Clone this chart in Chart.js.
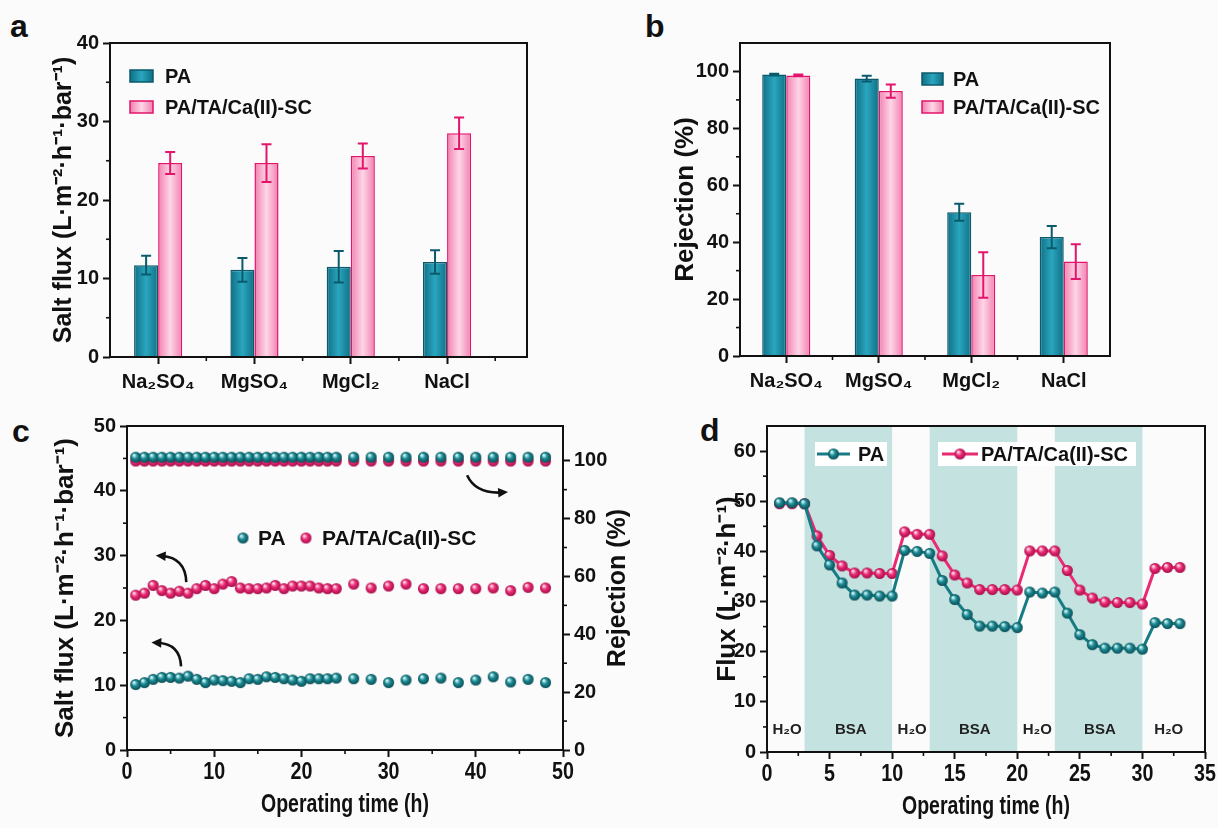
<!DOCTYPE html>
<html>
<head>
<meta charset="utf-8">
<script src="https://cdn.jsdelivr.net/npm/chart.js@4.4.0/dist/chart.umd.min.js"></script>
<style>
  body { margin: 0; width: 1218px; height: 828px; overflow: hidden; background: #fbfbfb; font-family: "Liberation Sans", Arial, sans-serif; }
  canvas { position: absolute; }
  .tag { position: absolute; font-weight: bold; font-size: 32px; line-height: 32px; color: #111; }
</style>
</head>
<body>
<div class="tag" style="left:10px;top:10px">a</div>
<div class="tag" style="left:645px;top:10px">b</div>
<div class="tag" style="left:12px;top:415px">c</div>
<div class="tag" style="left:700px;top:414px">d</div>
<canvas id="chartA" style="left:0;top:0" width="600" height="410"></canvas>
<canvas id="chartB" style="left:640px;top:0" width="578" height="410"></canvas>
<canvas id="chartC" style="left:0;top:410px" width="640" height="418"></canvas>
<canvas id="chartD" style="left:690px;top:410px" width="528" height="418"></canvas>
<script>
// ---- data (a, b) ----
const salts = ['Na₂SO₄', 'MgSO₄', 'MgCl₂', 'NaCl'];
const saltPos = [0, 1, 2, 3];
const fluxPA = [11.7, 11.1, 11.5, 12.1];
const fluxPAErr = [1.2, 1.5, 2.0, 1.5];
const fluxSC = [24.7, 24.7, 25.6, 28.5];
const fluxSCErr = [1.4, 2.4, 1.6, 2.0];
const rejPA = [98.9, 97.5, 50.5, 41.8];
const rejPAErr = [0.3, 1.0, 3.0, 3.9];
const rejSC = [98.6, 93.1, 28.5, 33.2];
const rejSCErr = [0.3, 2.3, 8.0, 6.1];

// ---- data (c) ----
const timeC = [1, 2, 3, 4, 5, 6, 7, 8, 9, 10, 11, 12, 13, 14, 15, 16, 17, 18, 19, 20, 21, 22, 23, 24,
  26, 28, 30, 32, 34, 36, 38, 40, 42, 44, 46, 48];
const longFluxPA = [10.1, 10.4, 10.9, 11.2, 11.2, 11.1, 11.4, 10.9, 10.4, 10.8, 10.7, 10.6, 10.4, 11.0, 10.9, 11.3, 11.2, 11.0, 10.8, 10.6, 11.0, 11.0, 11.0, 11.1,
  11.0, 10.9, 10.4, 10.8, 11.0, 11.1, 10.4, 10.8, 11.3, 10.5, 10.9, 10.4];
const longFluxSC = [23.9, 24.2, 25.4, 24.6, 24.2, 24.5, 24.2, 24.9, 25.4, 24.9, 25.6, 26.0, 25.0, 24.9, 24.9, 25.0, 25.4, 24.9, 25.3, 25.3, 25.3, 25.0, 24.9, 24.9,
  25.6, 25.0, 25.3, 25.6, 24.9, 24.9, 24.9, 24.9, 25.0, 24.6, 25.1, 25.0];
const longRejPA = [101.2, 101.2, 101.2, 101.2, 101.2, 101.2, 101.2, 101.2, 101.2, 101.2, 101.2, 101.2, 101.2, 101.2, 101.2, 101.2, 101.2, 101.2, 101.2, 101.2, 101.2, 101.2, 101.2, 101.2,
  101.2, 101.2, 101.2, 101.2, 101.2, 101.2, 101.2, 101.2, 101.2, 101.2, 101.2, 101.2];
const longRejSC = [99.9, 99.9, 99.9, 99.9, 99.9, 99.9, 99.9, 99.9, 99.9, 99.9, 99.9, 99.9, 99.9, 99.9, 99.9, 99.9, 99.9, 99.9, 99.9, 99.9, 99.9, 99.9, 99.9, 99.9,
  99.9, 99.9, 99.9, 99.9, 99.9, 99.9, 99.9, 99.9, 99.9, 99.9, 99.9, 99.9];
// curved arrows (time, salt flux)
const arrowsC = [
  { from: [39.0, 42.4], via: [40.0, 39.5], to: [43.7, 39.8] },
  { from: [6.8, 25.9], via: [6.7, 29.7], to: [3.3, 30.0] },
  { from: [6.2, 12.9], via: [6.1, 16.4], to: [2.8, 16.6] }
];

// ---- data (d) ----
const timeD = [1, 2, 3, 4, 5, 6, 7, 8, 9, 10, 11, 12, 13, 14, 15, 16, 17, 18, 19, 20, 21, 22, 23, 24, 25, 26, 27, 28, 29, 30, 31, 32, 33];
const foulPA = [49.7, 49.7, 49.5, 41.1, 37.3, 33.7, 31.3, 31.3, 31.1, 31.1, 40.2, 40.0, 39.6, 34.2, 30.4, 27.4, 25.1, 25.1, 25.0, 24.8,
  31.9, 31.7, 31.9, 27.7, 23.4, 21.4, 20.7, 20.7, 20.7, 20.5, 25.8, 25.6, 25.6];
const foulSC = [49.5, 49.5, 49.5, 43.1, 39.2, 37.1, 35.7, 35.7, 35.6, 35.6, 43.9, 43.4, 43.4, 39.1, 35.3, 33.7, 32.4, 32.4, 32.4, 32.3,
  40.1, 40.1, 40.1, 36.2, 32.3, 30.7, 29.9, 29.8, 29.8, 29.5, 36.6, 36.8, 36.8];
const bsaStart = [3, 13, 23];
const bsaEnd = [10, 20, 30];
const stageNames = ['H₂O', 'BSA', 'H₂O', 'BSA', 'H₂O', 'BSA', 'H₂O'];
const stagePos = [1.6, 6.7, 11.6, 16.6, 21.6, 26.6, 32.1];

// ---- ticks ----
const ticksAY = [0, 10, 20, 30, 40];
const minorAY = [5, 15, 25, 35];
const minorAX = [0.5, 1.5, 2.5, 3.5];
const ticksBY = [0, 20, 40, 60, 80, 100];
const minorBY = [10, 30, 50, 70, 90];
const minorBX = [0.5, 1.5, 2.5];
const ticksCX = [0, 10, 20, 30, 40, 50];
const minorCX = [5, 15, 25, 35, 45];
const ticksCY = [0, 10, 20, 30, 40, 50];
const minorCY = [5, 15, 25, 35, 45];
const ticksCY1 = [0, 20, 40, 60, 80, 100];
const minorCY1 = [10, 30, 50, 70, 90];
const ticksDX = [0, 5, 10, 15, 20, 25, 30, 35];
const minorDX = [2.5, 7.5, 12.5, 17.5, 22.5, 27.5, 32.5];
const ticksDY = [0, 10, 20, 30, 40, 50, 60];
const minorDY = [5, 15, 25, 35, 45, 55];

const FONT = '"Liberation Sans", Arial, sans-serif';
const INK = '#111';
const TEAL_DARK = '#0b5a6b';
const TEAL_EDGE = '#0f6f85';
const TEAL_MID = '#2aa6bf';
const PINK_DARK = '#e3146b';
const PINK_EDGE = '#f27fb0';
const PINK_MID = '#fdd6e6';
const LINE_TEAL = '#167b84';
const LINE_PINK = '#ea2a73';
const BAND = '#c4e3e0';

Chart.defaults.font.family = FONT;
Chart.defaults.color = INK;

function sphere(r, light, mid, dark) {
  const c = document.createElement('canvas');
  const s = Math.ceil(r * 2 + 2);
  c.width = s; c.height = s;
  const g = c.getContext('2d');
  const grad = g.createRadialGradient(s / 2 - r * 0.35, s / 2 - r * 0.4, r * 0.1, s / 2, s / 2, r);
  grad.addColorStop(0, light);
  grad.addColorStop(0.45, mid);
  grad.addColorStop(1, dark);
  g.fillStyle = grad;
  g.beginPath(); g.arc(s / 2, s / 2, r, 0, Math.PI * 2); g.fill();
  return c;
}
const ballPA = sphere(5.5, '#d8fbfb', '#1c8c95', '#094c54');
const ballSC = sphere(5.5, '#ffe3ee', '#ec2d76', '#a50c4a');

function cylinder(ctx, left, right, edge, mid) {
  const g = ctx.createLinearGradient(left, 0, right, 0);
  g.addColorStop(0, edge);
  g.addColorStop(0.5, mid);
  g.addColorStop(1, edge);
  return g;
}

// fill for grouped bars, side -1 = left bar, +1 = right bar
function barFill(side, catPct, edge, mid) {
  return function (c) {
    const xs = c.chart.scales.x;
    if (c.dataIndex === undefined || !xs || !c.chart.chartArea) return mid;
    const p = xs.getPixelForValue(c.dataIndex);
    const w = (xs.getPixelForValue(1) - xs.getPixelForValue(0)) * catPct / 2;
    return side < 0 ? cylinder(c.chart.ctx, p - w, p, edge, mid) : cylinder(c.chart.ctx, p, p + w, edge, mid);
  };
}

function tickGrid() {
  return { drawOnChartArea: false, tickLength: 7, tickWidth: 2, tickColor: INK, offset: false };
}
function tickFont(size) {
  return { family: FONT, size: size || 20, weight: 'bold' };
}
function fixTicks(list) {
  return s => { s.ticks = list.map(v => ({ value: v })); };
}

// condensed text, as in the bottom axes of c and d
function narrowText(ctx, text, x, y, size, sx) {
  ctx.save();
  ctx.translate(x, y);
  ctx.scale(sx, 1);
  ctx.font = 'bold ' + size + 'px ' + FONT;
  ctx.fillStyle = INK;
  ctx.textAlign = 'center';
  ctx.textBaseline = 'middle';
  ctx.fillText(text, 0, 0);
  ctx.restore();
}

// box around the plot + minor ticks
const frame = {
  id: 'frame',
  afterDatasetsDraw(chart, args, opts) {
    const { ctx, chartArea: a } = chart;
    ctx.save();
    ctx.strokeStyle = INK;
    ctx.lineWidth = 2;
    ctx.strokeRect(a.left, a.top, a.right - a.left, a.bottom - a.top);
    ctx.lineWidth = 1.6;
    const minor = opts.minor || {};
    Object.keys(minor).forEach(id => {
      const s = chart.scales[id];
      minor[id].forEach(v => {
        const p = s.getPixelForValue(v);
        ctx.beginPath();
        if (s.isHorizontal()) { ctx.moveTo(p, a.bottom); ctx.lineTo(p, a.bottom + 4); }
        else if (s.position === 'right') { ctx.moveTo(a.right, p); ctx.lineTo(a.right + 4, p); }
        else { ctx.moveTo(a.left, p); ctx.lineTo(a.left - 4, p); }
        ctx.stroke();
      });
    });
    ctx.restore();
  }
};

// bottom axis labels + title for the time axes
const timeAxis = {
  id: 'timeAxis',
  afterDraw(chart, args, opts) {
    const { ctx, chartArea: a, scales } = chart;
    opts.ticks.forEach(v => narrowText(ctx, String(v), scales.x.getPixelForValue(v), a.bottom + 22, 24, 0.82));
    narrowText(ctx, 'Operating time (h)', (a.left + a.right) / 2, a.bottom + 55, 25, 0.78);
  }
};

const errorBars = {
  id: 'errorBars',
  afterDatasetsDraw(chart) {
    const ctx = chart.ctx;
    chart.data.datasets.forEach((ds, i) => {
      if (!ds.errors) return;
      const meta = chart.getDatasetMeta(i);
      const ys = chart.scales[meta.yAxisID];
      ctx.save();
      ctx.strokeStyle = ds.borderColor;
      ctx.lineWidth = 2;
      meta.data.forEach((bar, j) => {
        const d = ds.data[j];
        const v = typeof d === 'object' ? d.y : d;
        const top = ys.getPixelForValue(v + ds.errors[j]);
        const bot = ys.getPixelForValue(v - ds.errors[j]);
        ctx.beginPath();
        ctx.moveTo(bar.x, top); ctx.lineTo(bar.x, bot);
        ctx.moveTo(bar.x - 5, top); ctx.lineTo(bar.x + 5, top);
        ctx.moveTo(bar.x - 5, bot); ctx.lineTo(bar.x + 5, bot);
        ctx.stroke();
      });
      ctx.restore();
    });
  }
};

const boxLegend = {
  id: 'boxLegend',
  afterDraw(chart, args, opts) {
    const { ctx, chartArea: a } = chart;
    ctx.save();
    chart.data.datasets.forEach((ds, i) => {
      const x = a.left + opts.dx;
      const y = a.top + opts.dy[i];
      const w = opts.w;
      ctx.fillStyle = cylinder(ctx, x, x + w, ds.legendEdge, ds.legendMid);
      ctx.fillRect(x, y - 6, w, 12);
      ctx.strokeStyle = ds.borderColor;
      ctx.lineWidth = 1.5;
      ctx.strokeRect(x, y - 6, w, 12);
      ctx.fillStyle = INK;
      ctx.font = 'bold 20px ' + FONT;
      ctx.textBaseline = 'middle';
      ctx.fillText(ds.label, x + opts.textDx, y + 1);
    });
    ctx.restore();
  }
};

// ---------- a ----------
new Chart(document.getElementById('chartA'), {
  type: 'bar',
  data: {
    datasets: [
      {
        label: 'PA', data: saltPos.map((x, i) => ({ x, y: fluxPA[i] })), errors: fluxPAErr,
        backgroundColor: barFill(-1, 0.5, TEAL_EDGE, TEAL_MID), borderColor: TEAL_DARK, borderWidth: 1.5,
        legendEdge: TEAL_EDGE, legendMid: TEAL_MID, categoryPercentage: 0.5, barPercentage: 1
      },
      {
        label: 'PA/TA/Ca(II)-SC', data: saltPos.map((x, i) => ({ x, y: fluxSC[i] })), errors: fluxSCErr,
        backgroundColor: barFill(1, 0.5, PINK_EDGE, PINK_MID), borderColor: PINK_DARK, borderWidth: 1.5,
        legendEdge: PINK_EDGE, legendMid: PINK_MID, categoryPercentage: 0.5, barPercentage: 1
      }
    ]
  },
  options: {
    responsive: false,
    animation: false,
    layout: { padding: { left: 0, right: 73, top: 43, bottom: 0 } },
    plugins: {
      legend: { display: false },
      tooltip: { enabled: false },
      frame: { minor: { x: minorAX, y: minorAY } },
      boxLegend: { dx: 20, dy: [33, 64], w: 23, textDx: 35 }
    },
    scales: {
      x: {
        type: 'linear', min: -0.5, max: 3.83, offset: false,
        afterBuildTicks: fixTicks(saltPos),
        afterFit: s => { s.height = 53; },
        ticks: { callback: v => salts[v], font: tickFont(20), color: INK, padding: 6, maxRotation: 0, autoSkip: false },
        grid: tickGrid(), border: { display: false }
      },
      y: {
        min: 0, max: 40,
        afterBuildTicks: fixTicks(ticksAY),
        afterFit: s => { s.width = 110; },
        ticks: { font: tickFont(20), color: INK, padding: 4 },
        grid: tickGrid(), border: { display: false },
        title: { display: true, text: 'Salt flux (L·m⁻²·h⁻¹·bar⁻¹)', font: tickFont(25), color: INK, padding: { top: 49 } }
      }
    }
  },
  plugins: [frame, errorBars, boxLegend]
}).update();

// ---------- b ----------
new Chart(document.getElementById('chartB'), {
  type: 'bar',
  data: {
    labels: salts,
    datasets: [
      {
        label: 'PA', data: rejPA, errors: rejPAErr,
        backgroundColor: barFill(-1, 0.52, TEAL_EDGE, TEAL_MID), borderColor: TEAL_DARK, borderWidth: 1.5,
        legendEdge: TEAL_EDGE, legendMid: TEAL_MID, categoryPercentage: 0.52, barPercentage: 1
      },
      {
        label: 'PA/TA/Ca(II)-SC', data: rejSC, errors: rejSCErr,
        backgroundColor: barFill(1, 0.52, PINK_EDGE, PINK_MID), borderColor: PINK_DARK, borderWidth: 1.5,
        legendEdge: PINK_EDGE, legendMid: PINK_MID, categoryPercentage: 0.52, barPercentage: 1
      }
    ]
  },
  options: {
    responsive: false,
    animation: false,
    layout: { padding: { left: 0, right: 108, top: 43, bottom: 0 } },
    plugins: {
      legend: { display: false },
      tooltip: { enabled: false },
      frame: { minor: { x: minorBX, y: minorBY } },
      boxLegend: { dx: 182, dy: [36, 64], w: 21, textDx: 31 }
    },
    scales: {
      x: {
        afterFit: s => { s.height = 54; },
        ticks: { font: tickFont(20), color: INK, padding: 6, maxRotation: 0, autoSkip: false },
        grid: tickGrid(), border: { display: false }
      },
      y: {
        min: 0, max: 110,
        afterBuildTicks: fixTicks(ticksBY),
        afterFit: s => { s.width = 100; },
        ticks: { font: tickFont(20), color: INK, padding: 4 },
        grid: tickGrid(), border: { display: false },
        title: { display: true, text: 'Rejection (%)', font: tickFont(26), color: INK, padding: { top: 30 } }
      }
    }
  },
  plugins: [frame, errorBars, boxLegend]
}).update();

// ---------- c ----------
const extrasC = {
  id: 'extrasC',
  afterDatasetsDraw(chart) {
    const { ctx, chartArea: a, scales } = chart;
    const px = p => [scales.x.getPixelForValue(p[0]), scales.y.getPixelForValue(p[1])];
    ctx.save();
    ctx.strokeStyle = INK;
    ctx.fillStyle = INK;
    ctx.lineWidth = 2.6;
    arrowsC.forEach(ar => {
      const f = px(ar.from), v = px(ar.via), t = px(ar.to);
      const ang = Math.atan2(t[1] - v[1], t[0] - v[0]);
      const tail = [t[0] - Math.cos(ang) * 6, t[1] - Math.sin(ang) * 6];
      ctx.beginPath();
      ctx.moveTo(f[0], f[1]);
      ctx.quadraticCurveTo(v[0], v[1], tail[0], tail[1]);
      ctx.stroke();
      ctx.beginPath();
      ctx.moveTo(t[0], t[1]);
      ctx.lineTo(t[0] - Math.cos(ang - 0.45) * 11, t[1] - Math.sin(ang - 0.45) * 11);
      ctx.lineTo(t[0] - Math.cos(ang + 0.45) * 11, t[1] - Math.sin(ang + 0.45) * 11);
      ctx.closePath();
      ctx.fill();
    });
    // legend
    const ly = a.top + 112;
    ctx.font = 'bold 21px ' + FONT;
    ctx.textBaseline = 'middle';
    ctx.drawImage(ballPA, a.left + 116 - ballPA.width / 2, ly - ballPA.height / 2);
    ctx.fillText('PA', a.left + 131, ly + 1);
    ctx.drawImage(ballSC, a.left + 179 - ballSC.width / 2, ly - ballSC.height / 2);
    ctx.fillText('PA/TA/Ca(II)-SC', a.left + 195, ly + 1);
    // right axis title, read bottom to top
    ctx.translate(a.right + 55, (a.top + a.bottom) / 2);
    ctx.rotate(-Math.PI / 2);
    ctx.textAlign = 'center';
    ctx.font = 'bold 25px ' + FONT;
    ctx.fillText('Rejection (%)', 0, 0);
    ctx.restore();
  }
};

new Chart(document.getElementById('chartC'), {
  type: 'scatter',
  data: {
    datasets: [
      { label: 'PA', data: timeC.map((t, i) => ({ x: t, y: longFluxPA[i] })), yAxisID: 'y', pointStyle: ballPA },
      { label: 'PA/TA/Ca(II)-SC', data: timeC.map((t, i) => ({ x: t, y: longFluxSC[i] })), yAxisID: 'y', pointStyle: ballSC },
      { label: 'PA', data: timeC.map((t, i) => ({ x: t, y: longRejPA[i] })), yAxisID: 'y1', pointStyle: ballPA },
      { label: 'PA/TA/Ca(II)-SC', data: timeC.map((t, i) => ({ x: t, y: longRejSC[i] })), yAxisID: 'y1', pointStyle: ballSC }
    ]
  },
  options: {
    responsive: false,
    animation: false,
    layout: { padding: { left: 0, right: 0, top: 15, bottom: 0 } },
    plugins: {
      legend: { display: false },
      tooltip: { enabled: false },
      frame: { minor: { x: minorCX, y: minorCY, y1: minorCY1 } },
      timeAxis: { ticks: ticksCX }
    },
    scales: {
      x: {
        type: 'linear', min: 0, max: 50,
        afterBuildTicks: fixTicks(ticksCX),
        afterFit: s => { s.height = 78; },
        ticks: { display: false },
        grid: tickGrid(), border: { display: false }
      },
      y: {
        min: 0, max: 50,
        afterBuildTicks: fixTicks(ticksCY),
        afterFit: s => { s.width = 127; },
        ticks: { font: tickFont(20), color: INK, padding: 4 },
        grid: tickGrid(), border: { display: false },
        title: { display: true, text: 'Salt flux (L·m⁻²·h⁻¹·bar⁻¹)', font: tickFont(26), color: INK, padding: { top: 50 } }
      },
      y1: {
        position: 'right', min: 0, max: 112,
        afterBuildTicks: fixTicks(ticksCY1),
        afterFit: s => { s.width = 77; },
        ticks: { font: tickFont(20), color: INK, padding: 4 },
        grid: tickGrid(), border: { display: false }
      }
    }
  },
  plugins: [frame, extrasC, timeAxis]
});

// ---------- d ----------
const bandsD = {
  id: 'bandsD',
  beforeDatasetsDraw(chart) {
    const { ctx, chartArea: a, scales } = chart;
    ctx.save();
    ctx.fillStyle = BAND;
    bsaStart.forEach((s, i) => {
      const l = scales.x.getPixelForValue(s);
      const r = scales.x.getPixelForValue(bsaEnd[i]);
      ctx.fillRect(l, a.top, r - l, a.bottom - a.top);
    });
    ctx.fillStyle = '#222';
    ctx.font = 'bold 15px ' + FONT;
    ctx.textAlign = 'center';
    ctx.textBaseline = 'middle';
    const ly = scales.y.getPixelForValue(4.4);
    stageNames.forEach((n, i) => ctx.fillText(n, scales.x.getPixelForValue(stagePos[i]), ly));
    ctx.restore();
  },
  afterDatasetsDraw(chart) {
    const { ctx, chartArea: a } = chart;
    const ly = a.top + 28;
    const items = [
      { boxL: 48, boxR: 120, lineL: 50, lineR: 83, text: 91, color: LINE_TEAL, ball: ballPA, label: 'PA' },
      { boxL: 171, boxR: 369, lineL: 175, lineR: 211, text: 214, color: LINE_PINK, ball: ballSC, label: 'PA/TA/Ca(II)-SC' }
    ];
    ctx.save();
    items.forEach(it => {
      ctx.fillStyle = '#ffffff';
      ctx.fillRect(a.left + it.boxL, ly - 12, it.boxR - it.boxL, 24);
      ctx.strokeStyle = it.color;
      ctx.lineWidth = 3;
      ctx.beginPath();
      ctx.moveTo(a.left + it.lineL, ly);
      ctx.lineTo(a.left + it.lineR, ly);
      ctx.stroke();
      const bx = a.left + (it.lineL + it.lineR) / 2;
      ctx.drawImage(it.ball, bx - it.ball.width / 2, ly - it.ball.height / 2);
      ctx.fillStyle = INK;
      ctx.font = 'bold 20px ' + FONT;
      ctx.textBaseline = 'middle';
      ctx.fillText(it.label, a.left + it.text, ly + 1);
    });
    ctx.restore();
  }
};

new Chart(document.getElementById('chartD'), {
  type: 'line',
  data: {
    datasets: [
      { label: 'PA', data: timeD.map((t, i) => ({ x: t, y: foulPA[i] })), borderColor: LINE_TEAL, borderWidth: 3, pointStyle: ballPA, tension: 0 },
      { label: 'PA/TA/Ca(II)-SC', data: timeD.map((t, i) => ({ x: t, y: foulSC[i] })), borderColor: LINE_PINK, borderWidth: 3, pointStyle: ballSC, tension: 0 }
    ]
  },
  options: {
    responsive: false,
    animation: false,
    layout: { padding: { left: 0, right: 13, top: 15, bottom: 0 } },
    plugins: {
      legend: { display: false },
      tooltip: { enabled: false },
      frame: { minor: { x: minorDX, y: minorDY } },
      timeAxis: { ticks: ticksDX }
    },
    scales: {
      x: {
        type: 'linear', min: 0, max: 35,
        afterBuildTicks: fixTicks(ticksDX),
        afterFit: s => { s.height = 76; },
        ticks: { display: false },
        grid: tickGrid(), border: { display: false }
      },
      y: {
        min: 0, max: 65,
        afterBuildTicks: fixTicks(ticksDY),
        afterFit: s => { s.width = 77; },
        ticks: { font: tickFont(20), color: INK, padding: 4 },
        grid: tickGrid(), border: { display: false },
        title: { display: true, text: 'Flux (L·m⁻²·h⁻¹)', font: tickFont(26), color: INK, padding: { top: 22 } }
      }
    }
  },
  plugins: [bandsD, frame, timeAxis]
});
</script>
</body>
</html>
